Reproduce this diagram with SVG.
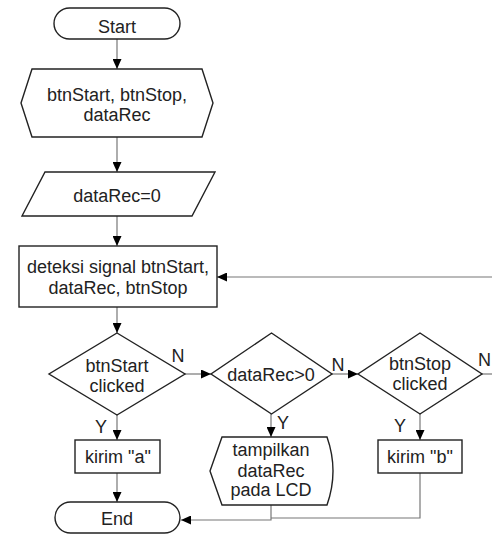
<svg xmlns="http://www.w3.org/2000/svg" width="492" height="534" viewBox="0 0 492 534">
<style>
.s{fill:#fff;stroke:#222;stroke-width:1.4}
.c{fill:none;stroke:#777;stroke-width:1.2}
text{font-family:"Liberation Sans",Arial,sans-serif;font-size:18px;fill:#222;text-anchor:middle}
.l{text-anchor:start}
</style>
<defs>
<marker id="a" markerUnits="userSpaceOnUse" markerWidth="10" markerHeight="9" refX="10" refY="4.5" orient="auto">
<path d="M0,0 L10,4.5 L0,9 z" fill="#000"/>
</marker>
</defs>
<rect width="492" height="534" fill="#fff"/>
<g id="connectors">
<path class="c" d="M117,39 V69" marker-end="url(#a)"/>
<path class="c" d="M117,137 V172" marker-end="url(#a)"/>
<path class="c" d="M117,216 V246" marker-end="url(#a)"/>
<path class="c" d="M117,307 V333" marker-end="url(#a)"/>
<path class="c" d="M185,374 H211" marker-end="url(#a)"/>
<path class="c" d="M332,374 H358" marker-end="url(#a)"/>
<path class="c" d="M482,374 H492"/>
<path class="c" d="M492,277 H217" marker-end="url(#a)"/>
<path class="c" d="M117,415 V440" marker-end="url(#a)"/>
<path class="c" d="M117,473 V502" marker-end="url(#a)"/>
<path class="c" d="M271,414 V437" marker-end="url(#a)"/>
<path class="c" d="M420,414 V440" marker-end="url(#a)"/>
<path class="c" d="M271,505 V520 H181" marker-end="url(#a)"/>
<path class="c" d="M420,473 V518 H271"/>
<text x="178" y="362">N</text>
<text x="338" y="371">N</text>
<text class="l" x="478" y="366">N</text>
<text x="101" y="433">Y</text>
<text x="283" y="429">Y</text>
<text x="400" y="432">Y</text>
</g>
<g id="start">
<rect class="s" x="54" y="8" width="126" height="31" rx="15.5"/>
<text x="117" y="33">Start</text>
</g>
<g id="init">
<polygon class="s" points="32,69 202,69 213,103 202,137 32,137 21,103"/>
<text x="117" y="101">btnStart, btnStop,</text>
<text x="117" y="121">dataRec</text>
</g>
<g id="set">
<polygon class="s" points="45,172 215,172 192,216 22,216"/>
<text x="117" y="202">dataRec=0</text>
</g>
<g id="detect">
<rect class="s" x="19" y="246" width="198" height="61"/>
<text x="118" y="273">deteksi signal btnStart,</text>
<text x="118" y="294">dataRec, btnStop</text>
</g>
<g id="d1">
<polygon class="s" points="117,333 185,374 117,415 49,374"/>
<text x="117" y="372">btnStart</text>
<text x="117" y="392">clicked</text>
</g>
<g id="d2">
<polygon class="s" points="271.5,333 332,374 271.5,414 211,374"/>
<text x="271" y="381">dataRec&gt;0</text>
</g>
<g id="d3">
<polygon class="s" points="420,333 482,374 420,414 358,374"/>
<text x="420" y="370">btnStop</text>
<text x="420" y="390">clicked</text>
</g>
<g id="kirimA">
<rect class="s" x="75" y="440" width="85" height="33"/>
<text x="118" y="463">kirim "a"</text>
</g>
<g id="display">
<path class="s" d="M222,437 H327 Q339,471 327,505 H222 L210,471 Z"/>
<text x="271" y="456">tampilkan</text>
<text x="271" y="477">dataRec</text>
<text x="271" y="496">pada LCD</text>
</g>
<g id="kirimB">
<rect class="s" x="378" y="440" width="84" height="33"/>
<text x="420" y="463">kirim "b"</text>
</g>
<g id="end">
<rect class="s" x="55" y="502" width="125" height="31" rx="15.5"/>
<text x="117" y="525">End</text>
</g>
</svg>
